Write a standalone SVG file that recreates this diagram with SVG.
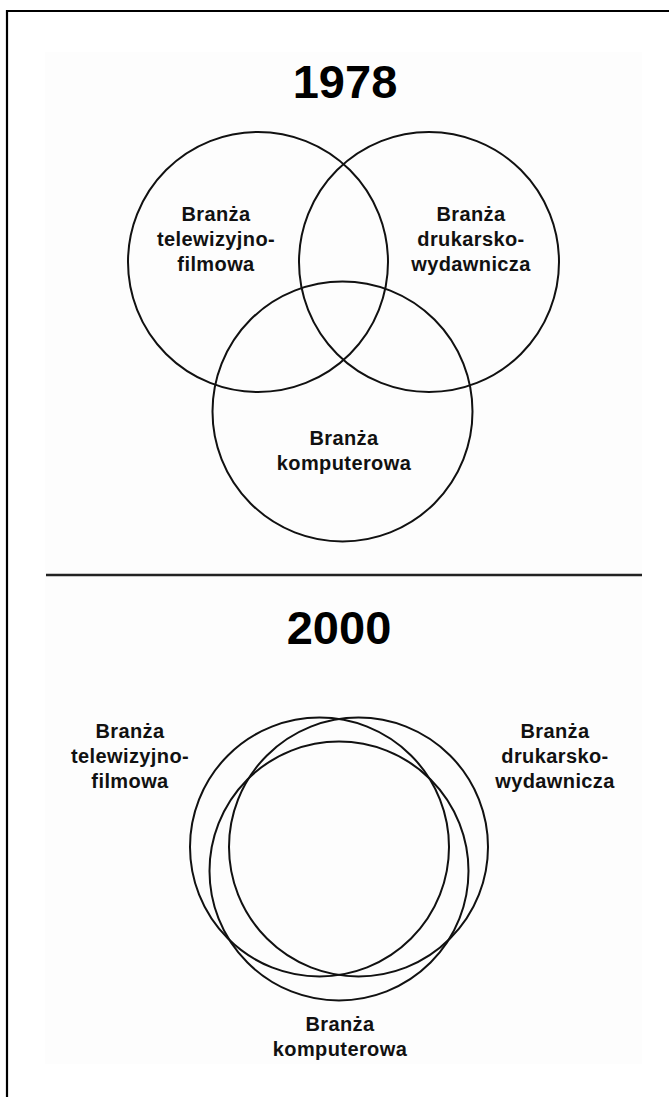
<svg xmlns="http://www.w3.org/2000/svg" width="669" height="1097" viewBox="0 0 669 1097">
<style>
  .ring { fill: none; stroke: #111; stroke-width: 2; }
  .lbl { font-family: "Liberation Sans", Arial, sans-serif; font-weight: bold; font-size: 20px; letter-spacing: 0.4px; fill: #111; text-anchor: middle; }
  .title { font-family: "Liberation Sans", Arial, sans-serif; font-weight: bold; font-size: 47px; fill: #000; text-anchor: middle; }
</style>
<rect x="0" y="0" width="669" height="1097" fill="#ffffff"/>
<rect x="45" y="52" width="597" height="1012" fill="#fdfdfd"/>
<g id="frame">
  <line x1="6" y1="11" x2="669" y2="11" stroke="#000" stroke-width="2.2"/>
  <line x1="7" y1="10" x2="7" y2="1097" stroke="#000" stroke-width="2.2"/>
  <line x1="46" y1="575" x2="642" y2="575" stroke="#222" stroke-width="2.4"/>
</g>
<text class="title" x="345" y="98">1978</text>
<text class="title" x="339" y="644">2000</text>
<g id="top-tv">
  <circle class="ring" cx="258" cy="262" r="130"/>
  <text class="lbl" x="216" y="221">Branża</text>
  <text class="lbl" x="216" y="246">telewizyjno-</text>
  <text class="lbl" x="216" y="271">filmowa</text>
</g>
<g id="top-print">
  <circle class="ring" cx="429" cy="262" r="130"/>
  <text class="lbl" x="471" y="221">Branża</text>
  <text class="lbl" x="471" y="246">drukarsko-</text>
  <text class="lbl" x="471" y="271">wydawnicza</text>
</g>
<g id="top-computer">
  <circle class="ring" cx="342.5" cy="411.5" r="130"/>
  <text class="lbl" x="344" y="445">Branża</text>
  <text class="lbl" x="344" y="470">komputerowa</text>
</g>
<g id="bottom-tv">
  <circle class="ring" cx="319.5" cy="847" r="129.5"/>
  <text class="lbl" x="130" y="738">Branża</text>
  <text class="lbl" x="130" y="763">telewizyjno-</text>
  <text class="lbl" x="130" y="788">filmowa</text>
</g>
<g id="bottom-print">
  <circle class="ring" cx="358.5" cy="847" r="129.5"/>
  <text class="lbl" x="555" y="738">Branża</text>
  <text class="lbl" x="555" y="763">drukarsko-</text>
  <text class="lbl" x="555" y="788">wydawnicza</text>
</g>
<g id="bottom-computer">
  <circle class="ring" cx="339" cy="871" r="129.5"/>
  <text class="lbl" x="340" y="1031">Branża</text>
  <text class="lbl" x="340" y="1056">komputerowa</text>
</g>
<g id="connectors"></g>
</svg>
